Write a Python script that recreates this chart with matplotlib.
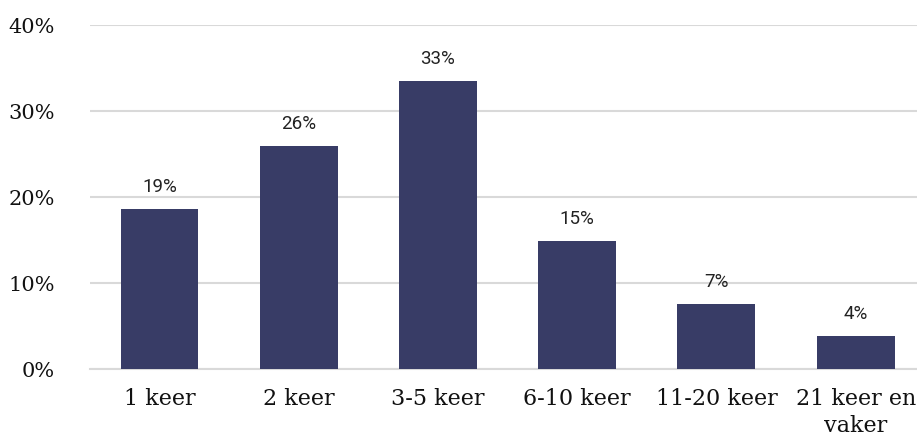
import matplotlib
matplotlib.use("Agg")
import matplotlib.pyplot as plt
from matplotlib.ticker import FuncFormatter

# Donnees
categories = ["1 keer", "2 keer", "3-5 keer", "6-10 keer", "11-20 keer", "21 keer en\nvaker"]
waarden = [0.186, 0.259, 0.334, 0.148, 0.075, 0.038]
labels = ["19%", "26%", "33%", "15%", "7%", "4%"]
yticks = [0, 0.1, 0.2, 0.3, 0.4]

fig = plt.figure(figsize=(9.17, 4.39), dpi=100)
ax = fig.add_axes([0.098, 0.158, 0.902, 0.7835])

x = range(len(categories))
bars = ax.bar(x, waarden, width=0.56, color="#383c66", zorder=3)

for b, lab in zip(bars, labels):
    ax.annotate(lab, (b.get_x() + b.get_width() / 2, b.get_height()),
                xytext=(0, 14), textcoords="offset pixels",
                ha="center", va="bottom", fontsize=13.5,
                family="Roboto", color="#222222")

ax.set_xlim(-0.5, 5.44)
ax.set_ylim(0, 0.4)
ax.set_yticks(yticks)
ax.yaxis.set_major_formatter(FuncFormatter(lambda v, p: f"{v*100:.0f}%"))
ax.set_xticks(list(x))
ax.set_xticklabels(categories, family="DejaVu Serif", fontsize=16, color="#111111",
                   linespacing=1.3)
for t in ax.get_yticklabels():
    t.set_family("DejaVu Serif")
    t.set_fontsize(15)
    t.set_color("#111111")

ax.grid(axis="y", color="#d9d9d9", linewidth=1.5, zorder=0)
ax.tick_params(axis="both", length=0)
ax.tick_params(axis="y", pad=25)
ax.tick_params(axis="x", pad=13)
for s in ["top", "right", "left"]:
    ax.spines[s].set_visible(False)
ax.spines["bottom"].set_color("#d9d9d9")
ax.spines["bottom"].set_linewidth(1.5)

fig.savefig("out.png", dpi=100)
